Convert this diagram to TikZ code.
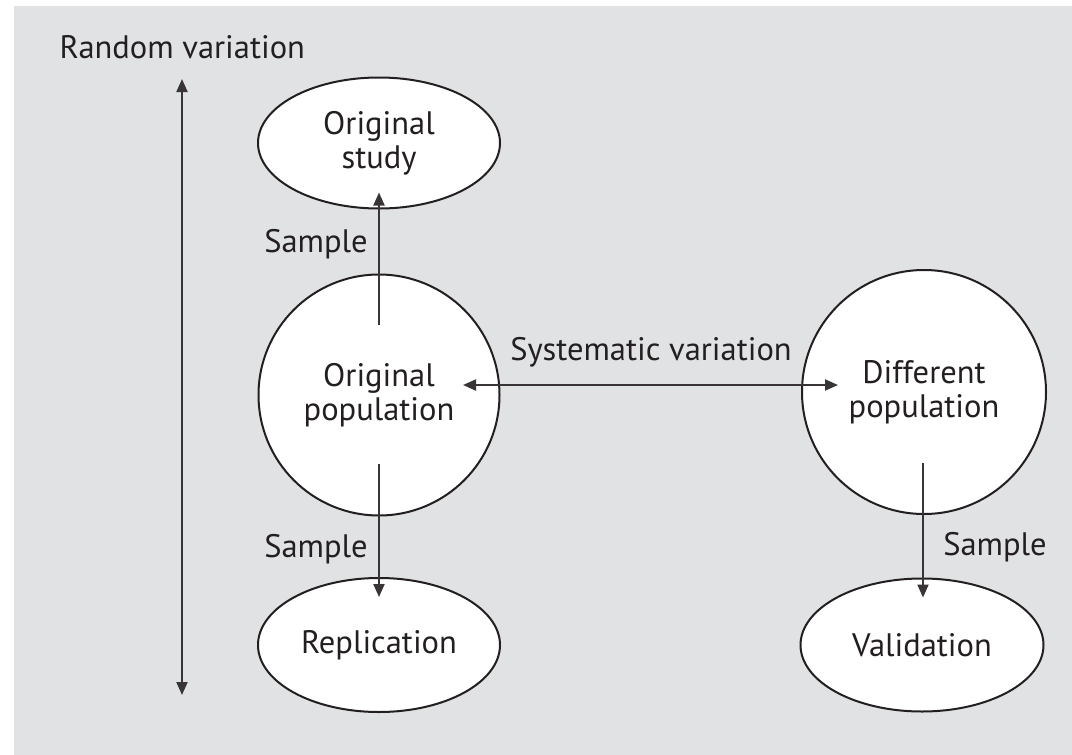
\documentclass[tikz,border=0pt]{standalone}
\usepackage{fontspec}
\setmainfont{PT Sans}
\usetikzlibrary{shapes.geometric,arrows.meta}
\definecolor{bggray}{RGB}{225,226,228}
\definecolor{ink}{RGB}{35,31,32}
\begin{document}
\begin{tikzpicture}[x=1pt,y=-1pt,
  every node/.style={font=\fontsize{32.5}{34}\selectfont, text=ink, align=center},
  ell/.style={ellipse, draw=ink, line width=2pt, fill=white, inner sep=0pt},
  circ/.style={circle, draw=ink, line width=2pt, fill=white, inner sep=0pt},
  arr/.style={draw=ink!90, line width=2pt, -{Triangle[length=13pt,width=11pt]}},
  darr/.style={draw=ink!90, line width=2pt, {Triangle[length=13pt,width=11pt]}-{Triangle[length=13pt,width=11pt]}},
  lbl/.style={anchor=base}]
\useasboundingbox (0,0) rectangle (1072,755);
\fill[bggray] (14,6) rectangle (1072,755);

\node[ell, minimum width=242pt, minimum height=131pt] (os) at (379,143) {Original\\study};
\node[circ, minimum size=241pt] (op) at (379,395) {Original\\population};
\node[ell, minimum width=242pt, minimum height=134pt] (rep) at (379,645) {Replication};
\node[circ, minimum size=244pt] (dp) at (924,392) {Different\\population};
\node[ell, minimum width=243pt, minimum height=133pt] (val) at (922,645) {Validation};

\node[lbl, anchor=base west] (rv) at (56,58) {Random variation};
\node[lbl] (s1) at (316,252) {Sample};
\node[lbl] (s2) at (316,557) {Sample};
\node[lbl] (s3) at (995,555) {Sample};
\node[lbl] (sv) at (651,360) {Systematic variation};

\coordinate (rvtop) at (182,79);
\coordinate (rvbot) at (182,695);
\draw[darr] (rvtop) -- (rvbot);

\draw[arr] ([yshift=70pt]op.center) -- ([yshift=17pt]os.south);
\draw[arr] ([yshift=-69pt]op.center) -- ([yshift=-20pt]rep.north);
\draw[arr] ([xshift=-1pt,yshift=-71pt]dp.center) -- ([xshift=1pt,yshift=-20pt]val.north);
\draw[darr] ([xshift=84pt,yshift=10pt]op.center) -- ([xshift=-86pt,yshift=7pt]dp.center);
\end{tikzpicture}
\end{document}
